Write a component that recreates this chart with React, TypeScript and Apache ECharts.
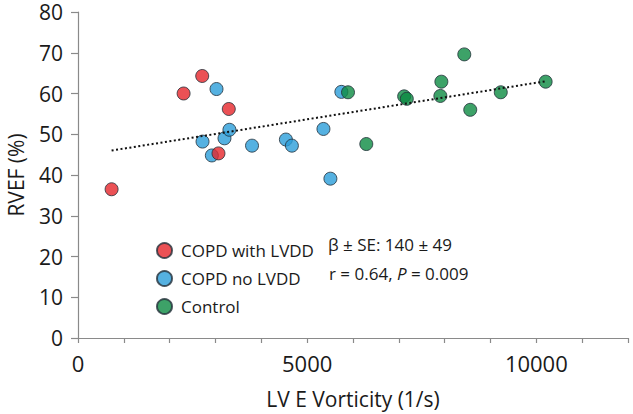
import React, { useEffect, useRef } from "react";
import * as echarts from "echarts";

const copdLvddX = [733, 2304, 2710, 3290, 3065];
const copdLvddY = [36.5, 60.0, 64.3, 56.2, 45.3];
const copdNoX = [3022, 2717, 2920, 3196, 3304, 3797, 4536, 4667, 5746, 5355, 5507];
const copdNoY = [61.1, 48.2, 44.8, 49.0, 51.1, 47.2, 48.7, 47.2, 60.4, 51.3, 39.1];
const controlX = [5891, 6290, 7116, 7174, 7928, 7906, 8428, 8558, 9224, 10203];
const controlY = [60.3, 47.6, 59.3, 58.7, 62.9, 59.4, 69.6, 56.0, 60.3, 62.9];
const trendX = [733, 10203];
const trendY = [46.0, 63.0];

const seriesNames = ["COPD with LVDD", "COPD no LVDD", "Control"];
const statsLines = ["β ± SE: 140 ± 49", "r = 0.64, {i|P} = 0.009"];

const FONT = "'Open Sans', sans-serif";
const TXT = "#1a1a1a";
const AXIS = "#8a8a8a";

const zip = (xs: number[], ys: number[]) => xs.map((x, i) => [x, ys[i]]);

export default function App() {
  const ref = useRef<HTMLDivElement>(null);
  useEffect(() => {
    if (!ref.current) return;
    const chart = echarts.init(ref.current, null, { renderer: "svg" });
    const pointStyle = (color: string) => ({
      color,
      borderColor: "#23303a",
      borderWidth: 1,
    });
    chart.setOption({
      animation: false,
      grid: {
        left: 78,
        right: 5,
        top: 12,
        bottom: 76,
        containLabel: false,
        outerBoundsMode: "none",
      },
      xAxis: {
        type: "value",
        min: 0,
        max: 12000,
        interval: 1000,
        name: "LV E Vorticity (1/s)",
        nameLocation: "middle",
        nameGap: 50,
        nameTextStyle: { fontFamily: FONT, fontSize: 21, color: TXT },
        axisLine: { show: true, lineStyle: { color: AXIS, width: 1.2 } },
        axisTick: { show: true, length: 5, lineStyle: { color: AXIS, width: 1.2 } },
        axisLabel: {
          fontFamily: FONT,
          fontSize: 22,
          lineHeight: 22,
          color: TXT,
          margin: 14,
          formatter: (v: number) => (v % 5000 === 0 ? String(v) : ""),
        },
        splitLine: { show: false },
      },
      yAxis: {
        type: "value",
        min: 0,
        max: 80,
        interval: 10,
        name: "RVEF (%)",
        nameLocation: "middle",
        nameGap: 52,
        nameTextStyle: { fontFamily: FONT, fontSize: 21, color: TXT },
        axisLine: { show: true, lineStyle: { color: AXIS, width: 1.2 } },
        axisTick: { show: true, length: 7, lineStyle: { color: AXIS, width: 1.2 } },
        axisLabel: { fontFamily: FONT, fontSize: 21, lineHeight: 18, color: TXT, margin: 15 },
        splitLine: { show: false },
      },
      legend: {
        orient: "vertical",
        left: 151,
        top: 237,
        data: seriesNames,
        icon: "circle",
        itemWidth: 15,
        itemHeight: 15,
        itemGap: 11,
        textStyle: {
          fontFamily: FONT,
          fontSize: 17,
          color: TXT,
          lineHeight: 17,
          padding: [0, 0, 0, 4],
        },
      },
      graphic: [
        {
          type: "text",
          left: 328,
          top: 236,
          style: {
            text: statsLines[0],
            fontFamily: FONT,
            fontSize: 17,
            fill: TXT,
          },
        },
        {
          type: "text",
          left: 329,
          top: 265,
          style: {
            text: statsLines[1],
            fontFamily: FONT,
            fontSize: 17,
            fill: TXT,
            rich: { i: { fontStyle: "italic", fontFamily: FONT, fontSize: 17, fill: TXT } },
          },
        },
      ],
      series: [
        {
          name: seriesNames[1],
          type: "scatter",
          symbolSize: 13,
          itemStyle: pointStyle("#2a9dd9"),
          data: zip(copdNoX, copdNoY),
        },
        {
          name: seriesNames[0],
          type: "scatter",
          symbolSize: 13,
          itemStyle: pointStyle("#e6252b"),
          data: zip(copdLvddX, copdLvddY),
        },
        {
          name: seriesNames[2],
          type: "scatter",
          symbolSize: 13,
          itemStyle: pointStyle("#0d8b42"),
          data: zip(controlX, controlY),
        },
        {
          name: "trend",
          type: "line",
          data: zip(trendX, trendY),
          symbol: "none",
          lineStyle: { color: "#111", width: 2, type: [2, 2.5] },
          z: 5,
          silent: true,
        },
      ],
    });
    return () => chart.dispose();
  }, []);
  return <div ref={ref} style={{ width: 633, height: 414, position: "absolute", left: 0, top: 0 }} />;
}
